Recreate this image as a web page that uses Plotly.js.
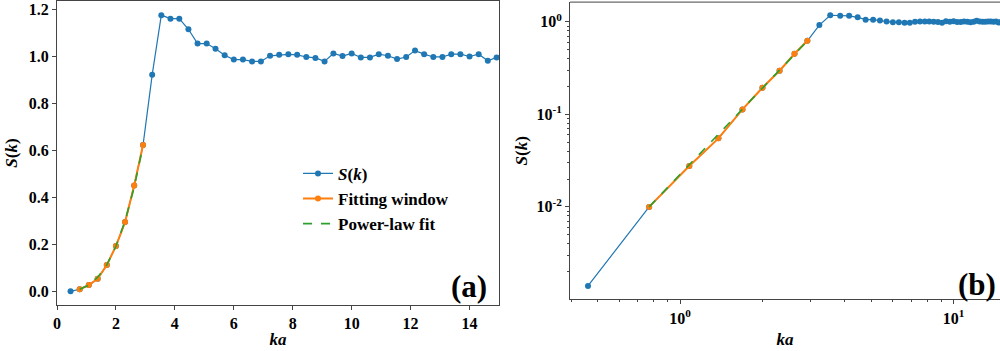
<!DOCTYPE html>
<html>
<head>
<meta charset="utf-8">
<script src="https://cdn.plot.ly/plotly-3.0.1.min.js"></script>
<style>html,body{margin:0;padding:0;background:#fff;overflow:hidden}#plot{width:1000px;height:351px}</style>
</head>
<body>
<div id="plot"></div>
<script>
// S(k) data
const ka = [0.46, 0.77, 1.08, 1.38, 1.69, 2.00, 2.31, 2.62, 2.92, 3.23, 3.54, 3.85, 4.15, 4.46, 4.77, 5.08,
  5.38, 5.69, 6.00, 6.31, 6.62, 6.92, 7.23, 7.54, 7.85, 8.15, 8.46, 8.77, 9.08, 9.38, 9.69, 10.00,
  10.31, 10.62, 10.92, 11.23, 11.54, 11.85, 12.15, 12.46, 12.77, 13.08, 13.38, 13.69, 14.00, 14.31, 14.62, 14.92];
const Sk = [0.0014, 0.0100, 0.0277, 0.055, 0.113, 0.194, 0.296, 0.452, 0.624, 0.923, 1.177, 1.162, 1.162, 1.117, 1.056, 1.056,
  1.034, 1.006, 0.988, 0.988, 0.980, 0.980, 1.004, 1.008, 1.010, 1.008, 0.999, 0.995, 0.980, 1.014, 1.003, 1.014,
  0.997, 0.997, 1.011, 1.004, 0.990, 0.999, 1.026, 1.011, 0.999, 0.999, 1.011, 1.011, 1.001, 1.011, 0.983, 0.997];
// Fitting window
const fitKa = [0.77, 1.08, 1.38, 1.69, 2.00, 2.31, 2.62, 2.92];
const fitWin = [0.0100, 0.0277, 0.055, 0.113, 0.194, 0.296, 0.452, 0.624];
// Power-law fit values
const fitLine = [0.0100, 0.0285, 0.061, 0.114, 0.193, 0.301, 0.445, 0.621];

const BLUE = '#1f77b4', ORANGE = '#ff7f0e', GREEN = '#2ca02c';
const FONT = "'Liberation Serif', 'Times New Roman', serif";

function traces(xa, ya, showleg) {
  return [
    {x: ka, y: Sk, xaxis: xa, yaxis: ya, type: 'scatter', mode: 'lines+markers',
     name: '<b><i>S</i>(<i>k</i>)</b>', showlegend: showleg,
     line: {color: BLUE, width: 1.2}, marker: {color: BLUE, size: 6}},
    {x: fitKa, y: fitWin, xaxis: xa, yaxis: ya, type: 'scatter', mode: 'lines+markers',
     name: '<b>Fitting window</b>', showlegend: showleg,
     line: {color: ORANGE, width: 2}, marker: {color: ORANGE, size: 6}},
    {x: fitKa, y: fitLine, xaxis: xa, yaxis: ya, type: 'scatter', mode: 'lines',
     name: '<b>Power-law fit</b>', showlegend: showleg,
     line: {color: GREEN, width: 1.6, dash: 'dash'}}
  ];
}

const data = traces('x', 'y', true).concat(traces('x2', 'y2', false));

const tickFont = {family: FONT, size: 16, color: '#000', weight: 'bold'};
const axCommon = {showgrid: false, zeroline: false, showline: true, linecolor: '#444', linewidth: 1,
  ticks: 'outside', ticklen: 4, tickcolor: '#444', tickfont: tickFont};

const logXminor = [0.4,0.5,0.6,0.7,0.8,0.9,2,3,4,5,6,7,8,9,20];
const logYminor = [0.002,0.003,0.004,0.005,0.006,0.007,0.008,0.009,0.02,0.03,0.04,0.05,0.06,0.07,0.08,0.09,0.2,0.3,0.4,0.5,0.6,0.7,0.8,0.9];

const layout = {
  width: 1000, height: 351,
  margin: {l: 0, r: 0, t: 0, b: 0},
  paper_bgcolor: '#fff', plot_bgcolor: '#fff',
  font: {family: FONT, color: '#000'},
  showlegend: true,
  legend: {x: 0.298, y: 0.556, xanchor: 'left', yanchor: 'top', bgcolor: 'rgba(0,0,0,0)',
    font: {family: FONT, size: 17, color: '#000'}, tracegroupgap: 0},
  xaxis: Object.assign({}, axCommon, {domain: [0.057, 0.499], range: [0, 15], tickvals: [0,2,4,6,8,10,12,14],
    mirror: true, anchor: 'y',
    title: {text: '<b><i>ka</i></b>', font: {family: FONT, size: 17}, standoff: 1}}),
  yaxis: Object.assign({}, axCommon, {domain: [0.131, 0.997], range: [-0.057, 1.237], tickvals: [0,0.2,0.4,0.6,0.8,1.0,1.2],
    tickformat: '.1f', mirror: true, anchor: 'x',
    title: {text: '<b><i>S</i>(<i>k</i>)</b>', font: {family: FONT, size: 17}, standoff: 6}}),
  xaxis2: Object.assign({}, axCommon, {type: 'log', domain: [0.570, 1.0], range: [-0.403, 1.17],
    tickvals: [1, 10], ticktext: ['<b>10<sup>0</sup></b>', '<b>10<sup>1</sup></b>'], mirror: false, anchor: 'y2',
    minor: {tickvals: logXminor, ticks: 'outside', ticklen: 2, tickcolor: '#444'},
    title: {text: '<b><i>ka</i></b>', font: {family: FONT, size: 17}, standoff: 7}}),
  yaxis2: Object.assign({}, axCommon, {type: 'log', domain: [0.147, 0.994], range: [-3.0, 0.213],
    tickvals: [0.01, 0.1, 1], ticktext: ['<b>10<sup>-2</sup></b>', '<b>10<sup>-1</sup></b>', '<b>10<sup>0</sup></b>'], anchor: 'x2', mirror: false,
    minor: {tickvals: logYminor, ticks: 'outside', ticklen: 2, tickcolor: '#444'},
    title: {text: '<b><i>S</i>(<i>k</i>)</b>', font: {family: FONT, size: 17}, standoff: 4}}),
  shapes: [
    {type: 'line', xref: 'paper', yref: 'paper', x0: 0.570, x1: 1.0, y0: 0.994, y1: 0.994,
     line: {color: '#444', width: 1}}
  ],
  annotations: [
    {text: '<b>(a)</b>', xref: 'paper', yref: 'paper', x: 0.489, y: 0.185, xanchor: 'right', yanchor: 'middle',
     showarrow: false, font: {family: FONT, size: 31, color: '#000'}},
    {text: '<b>(b)</b>', xref: 'paper', yref: 'paper', x: 0.998, y: 0.19, xanchor: 'right', yanchor: 'middle',
     showarrow: false, font: {family: FONT, size: 31, color: '#000'}}
  ]
};

Plotly.newPlot('plot', data, layout, {displayModeBar: false, staticPlot: true});
</script>
</body>
</html>
